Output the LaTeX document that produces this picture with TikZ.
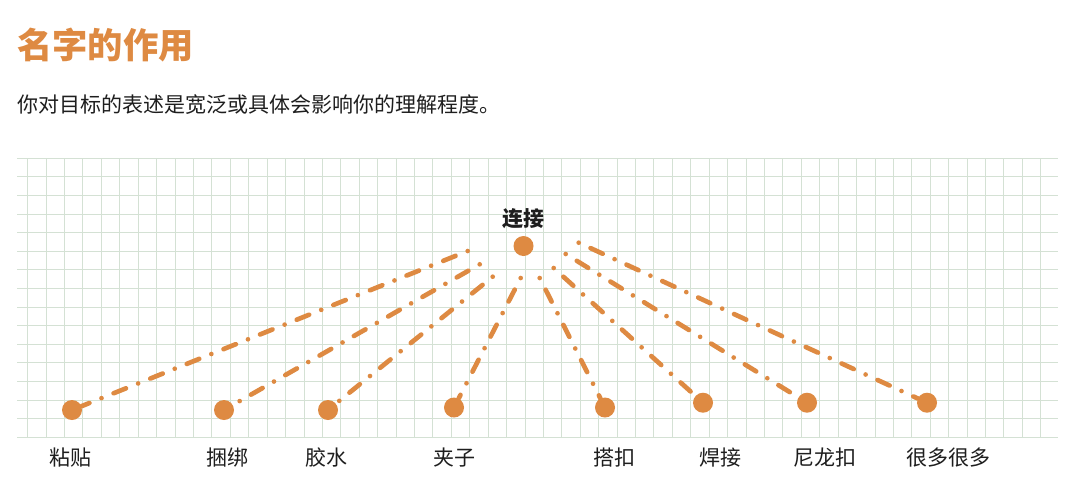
\documentclass[tikz,border=0pt]{standalone}
\usepackage{fontspec}
\setmainfont{Noto Sans CJK SC}
\usepackage{xcolor}
\usepackage{tikz}
\definecolor{nmorange}{RGB}{222,138,66}
\definecolor{nmgrid}{RGB}{212,225,212}
\definecolor{nmtext}{RGB}{30,30,30}
\tikzset{
  nm dot/.style={
    circle,
    minimum size=15pt,
    inner sep=0pt,
    fill=nmorange,
  },
  nm link/.style={
    nmorange,
    line width=3.5pt,
    line cap=round,
    dash pattern=on 0pt off 9.8pt on 10pt off 9.8pt,
  },
  nm label/.style={
    anchor=base,
    inner sep=0pt,
    text=nmtext,
    font=\fontsize{15.75pt}{18pt}\selectfont,
  },
  nm grid/.style={nmgrid, line width=0.75pt},
}

\begin{document}
\begin{tikzpicture}[x=0.75pt, y=-0.75pt]
  \useasboundingbox (0,0) rectangle (1080,501);
  \fill[white] (0,0) rectangle (1080,501);

  \node[anchor=base west, inner sep=0pt, text=nmorange,
    font=\fontsize{26.5pt}{30pt}\selectfont\bfseries] (title) at (17,58.3) {名字的作用};
  \node[nm label, anchor=base west] (subtitle) at (17,112) {你对目标的表述是宽泛或具体会影响你的理解程度。};

  \draw[nm grid, shift={(27.7,437.3)}, xstep=13.815pt, ystep=13.95pt] (-10.7,0) grid (1030,-279.2);

  \node[nm dot] (hub) at (523.5,246) {};
  \node[nm label, font=\fontsize{15.75pt}{18pt}\selectfont\bfseries] (hublabel) at (523,226) {连接};

  \node[nm dot] (paste) at (72,410) {};
  \node[nm dot] (bind) at (224,410) {};
  \node[nm dot] (glue) at (328,410) {};
  \node[nm dot] (clip) at (454,407.5) {};
  \node[nm dot] (buckle) at (605,407.5) {};
  \node[nm dot] (weld) at (703,402.7) {};
  \node[nm dot] (velcro) at (807,402.7) {};
  \node[nm dot] (many) at (927,402.7) {};

  \node[nm label] (pastelabel) at (70.3,465.5) {粘贴};
  \node[nm label] (bindlabel) at (227,465.5) {捆绑};
  \node[nm label] (gluelabel) at (326.5,465.5) {胶水};
  \node[nm label] (cliplabel) at (454.5,465.5) {夹子};
  \node[nm label] (bucklelabel) at (614,465.5) {搭扣};
  \node[nm label] (weldlabel) at (720.7,465.5) {焊接};
  \node[nm label] (velcrolabel) at (825,465.5) {尼龙扣};
  \node[nm label] (manylabel) at (948.7,465.5) {很多很多};

  % free ends of the links, round the hub
  \coordinate (s1) at (467.7,251);
  \coordinate (s2) at (479.7,264.3);
  \coordinate (s3) at (492.7,276.7);
  \coordinate (s4) at (520.7,278);
  \coordinate (s5) at (539.7,278);
  \coordinate (s6) at (553.7,268);
  \coordinate (s7) at (565.7,254);
  \coordinate (s8) at (578.7,242.7);

  \draw[nm link] (s1) -- (paste);
  \draw[nm link] (s2) -- (bind);
  \draw[nm link] (s3) -- (glue);
  \draw[nm link] (s4) -- (clip);
  \draw[nm link] (s5) -- (buckle);
  \draw[nm link] (s6) -- (weld);
  \draw[nm link] (s7) -- (velcro);
  \draw[nm link] (s8) -- (many);
\end{tikzpicture}
\end{document}
